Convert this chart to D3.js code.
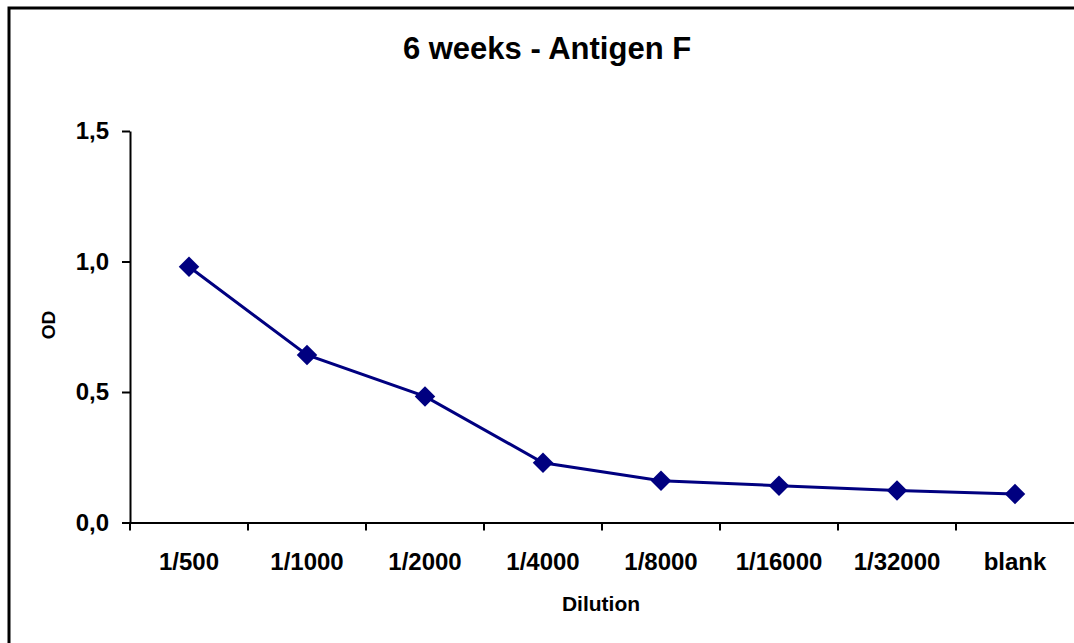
<!DOCTYPE html>
<html>
<head>
<meta charset="utf-8">
<script src="https://cdn.jsdelivr.net/npm/d3@7"></script>
<style>
  html, body { margin: 0; padding: 0; background: #fff; overflow: hidden; }
  text { font-family: "Liberation Sans", Arial, sans-serif; font-weight: bold; fill: #000; }
</style>
</head>
<body>
<div id="main"></div>
<script>
// dados
const dilutions = ["1/500", "1/1000", "1/2000", "1/4000", "1/8000", "1/16000", "1/32000", "blank"];
const odValues = [0.980, 0.642, 0.483, 0.229, 0.160, 0.141, 0.123, 0.109];
const yTicks = [0, 0.5, 1.0, 1.5];

const W = 1074, H = 643;
const margin = { top: 131, right: 0, bottom: 120, left: 130 };
const w = 1074 - margin.left;
const h = 522.5 - margin.top;

const svg = d3.select("#main")
  .append("svg")
  .attr("width", W)
  .attr("height", H);

// moldura
svg.append("rect")
  .attr("x", 9)
  .attr("y", 8)
  .attr("width", W + 20)
  .attr("height", H + 20)
  .attr("fill", "none")
  .attr("stroke", "#000")
  .attr("stroke-width", 3);

const g = svg.append("g")
  .attr("transform", `translate(${margin.left},${margin.top})`);

const xScale = d3.scaleBand().domain(dilutions).range([0, w]);
const yScale = d3.scaleLinear().domain([0, 1.5]).range([h, 0]);

// eixo X
const xAxis = g.append("g")
  .attr("transform", `translate(0,${h})`)
  .call(d3.axisBottom(xScale).tickSize(0).tickPadding(30));
xAxis.select(".domain").attr("stroke", "#000").attr("stroke-width", 2);
xAxis.selectAll("text").attr("font-size", "24px");
// ticks entre categorias
g.append("g")
  .selectAll("line")
  .data(dilutions)
  .join("line")
  .attr("x1", d => xScale(d))
  .attr("x2", d => xScale(d))
  .attr("y1", h)
  .attr("y2", h + 8)
  .attr("stroke", "#000")
  .attr("stroke-width", 2);

// eixo Y
const yAxis = g.append("g")
  .call(d3.axisLeft(yScale).tickValues(yTicks).tickSize(8).tickSizeOuter(0).tickPadding(13)
    .tickFormat(d => d3.format(".1f")(d).replace(".", ",")));
yAxis.select(".domain").attr("stroke", "#000").attr("stroke-width", 2);
yAxis.selectAll(".tick line").attr("stroke", "#000").attr("stroke-width", 2);
yAxis.selectAll("text").attr("font-size", "24px");

// linha
const line = d3.line()
  .x((d, i) => xScale(dilutions[i]) + xScale.bandwidth() / 2)
  .y(d => yScale(d));

g.append("path")
  .datum(odValues)
  .attr("d", line)
  .attr("fill", "none")
  .attr("stroke", "#000080")
  .attr("stroke-width", 3);

// marcadores losango
g.selectAll("path.marker")
  .data(odValues)
  .join("path")
  .attr("class", "marker")
  .attr("d", d3.symbol().type(d3.symbolSquare).size(210))
  .attr("transform", (d, i) => `translate(${xScale(dilutions[i]) + xScale.bandwidth() / 2},${yScale(d)}) rotate(45)`)
  .attr("fill", "#000080");

// titulo
svg.append("text")
  .attr("x", 547)
  .attr("y", 59)
  .attr("text-anchor", "middle")
  .attr("font-size", "31px")
  .text("6 weeks - Antigen F");

// label eixo X
svg.append("text")
  .attr("x", 601)
  .attr("y", 611)
  .attr("text-anchor", "middle")
  .attr("font-size", "21px")
  .text("Dilution");

// label eixo Y
svg.append("text")
  .attr("transform", "translate(55,325) rotate(-90)")
  .attr("text-anchor", "middle")
  .attr("font-size", "19px")
  .text("OD");
</script>
</body>
</html>
